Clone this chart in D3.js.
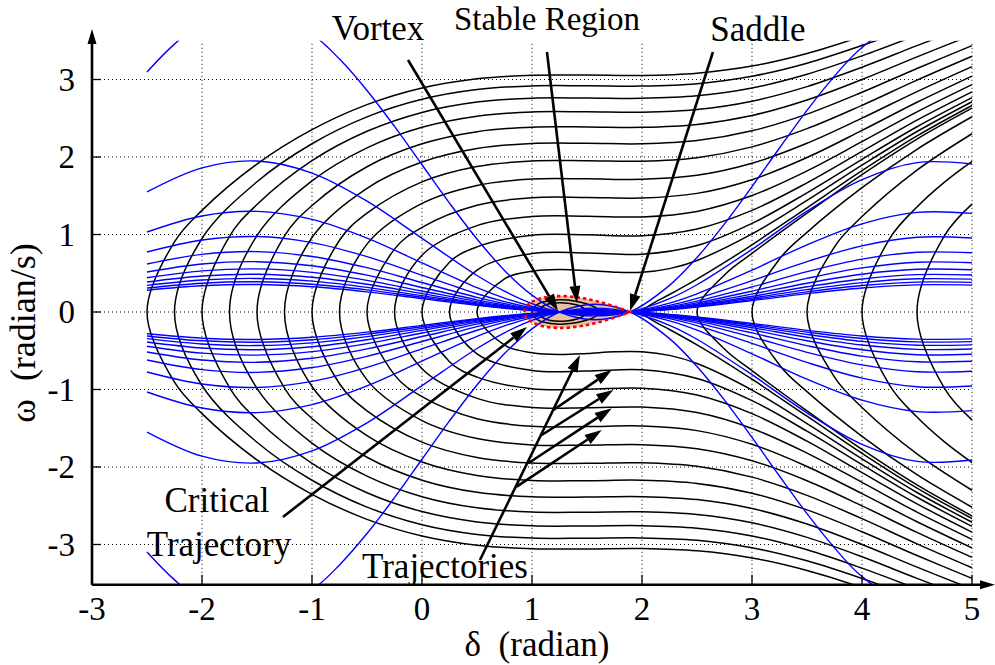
<!DOCTYPE html>
<html>
<head>
<meta charset="utf-8">
<script src="https://cdn.jsdelivr.net/npm/d3@7"></script>
<style>
  html, body { margin: 0; padding: 0; background: #fff; }
  svg text { font-family: "Liberation Serif", "Times New Roman", serif; fill: #000; }
</style>
</head>
<body>
<svg id="chart" width="995" height="665"></svg>
<script>
// ---------------------------------------------------------------------------
// Phase plane of the single-machine swing equation: δ (radian) vs ω (radian/s).
// Trajectories are listed by their upper half as [δ, ω] samples; the portrait is
// symmetric about ω = 0, so each lower half is the mirror image of the upper one.
// ---------------------------------------------------------------------------

const xTicks = [-3, -2, -1, 0, 1, 2, 3, 4, 5];
const yTicks = [-3, -2, -1, 0, 1, 2, 3];

// Trajectories that start on ω = 0 left of the stable point and pass over the saddle
const leftTrajectories = [
  [[-2.5,0],[-2.25,0.906],[-2,1.3115],[-1.5,1.9088],[-1,2.3522],[-0.5,2.6753],[0,2.89],[0.5,3.0096],[1,3.055],[1.5,3.0567],[2,3.0529],[2.5,3.0822],[3,3.1737],[3.5,3.3361],[4,3.556]],
  [[-2.25,0],[-2,0.9483],[-1.5,1.6801],[-1,2.1707],[-0.5,2.5173],[0,2.7443],[0.5,2.87],[1,2.9175],[1.5,2.9194],[2,2.9153],[2.5,2.9461],[3,3.0416],[3.5,3.2107],[4,3.4386],[4.5,3.6959]],
  [[-2,0],[-1.75,0.9751],[-1.5,1.3869],[-1,1.9526],[-0.5,2.3318],[0,2.5753],[0.5,2.7088],[1,2.7591],[1.5,2.7611],[2,2.7568],[2.5,2.7893],[3,2.89],[3.5,3.0674],[4,3.3053],[4.5,3.5722]],
  [[-1.75,0],[-1.5,0.9863],[-1,1.6917],[-0.5,2.1181],[0,2.3836],[0.5,2.5272],[1,2.5811],[1.5,2.5832],[2,2.5786],[2.5,2.6133],[3,2.7205],[3.5,2.9084],[4,3.1582],[4.5,3.4365],[5,3.7079]],
  [[-1.5,0],[-1.25,0.9819],[-1,1.3745],[-0.5,1.8745],[0,2.1699],[0.5,2.3268],[1,2.3852],[1.5,2.3875],[2,2.3825],[2.5,2.42],[3,2.5355],[3.5,2.736],[4,3.0002],[4.5,3.292],[5,3.5744]],
  [[-1.25,0],[-1,0.9618],[-0.5,1.5967],[0,1.935],[0.5,2.1094],[1,2.1737],[1.5,2.1762],[2,2.1708],[2.5,2.2118],[3,2.3376],[3.5,2.5537],[4,2.835],[4.5,3.1421],[5,3.4368]],
  [[-1,0],[-0.75,0.9262],[-0.5,1.2746],[0,1.6791],[0.5,1.8774],[1,1.9494],[1.5,1.9521],[2,1.9461],[2.5,1.9918],[3,2.1306],[3.5,2.3657],[4,2.6669],[4.5,2.9913],[5,3.2995]],
  [[-0.75,0],[-0.5,0.8757],[0,1.4006],[0.5,1.633],[1,1.7153],[1.5,1.7184],[2,1.7115],[2.5,1.7634],[3,1.9187],[3.5,2.1768],[4,2.5009],[4.5,2.8443],[5,3.1669]],
  [[-0.5,0],[-0.25,0.8109],[0,1.0931],[0.5,1.3784],[1,1.4749],[1.5,1.4786],[2,1.4706],[2.5,1.5306],[3,1.7073],[3.5,1.9929],[4,2.3426],[4.5,2.7061],[5,3.0434]],
  [[-0.25,0],[0,0.7329],[0.5,1.1146],[1,1.232],[1.5,1.2364],[2,1.2268],[2.5,1.2981],[3,1.5024],[3.5,1.8205],[4,2.1977],[4.5,2.5818],[5,2.9334]],
  [[0,0],[0.25,0.6425],[0.5,0.8398],[1,0.9903],[1.5,0.9957],[2,0.9838],[2.5,1.0714],[3,1.3115],[3.5,1.6664],[4,2.0719],[4.5,2.4756],[5,2.8403]],
  [[0.25,0],[0.5,0.5407],[1,0.7535],[1.5,0.7607],[2,0.745],[2.5,0.8573],[3,1.1433],[3.5,1.5376],[4,1.9698],[4.5,2.3907],[5,2.7667]],
  [[0.5,0],[0.75,0.428],[1,0.5248],[1.25,0.5481],[1.5,0.535],[1.75,0.5132],[2,0.5124],[2.25,0.5598],[2.5,0.6653],[3,1.0074],[3.5,1.4394],[4,1.8941],[4.5,2.3288],[5,2.7133]]
];

// Trajectories that start on ω = 0 right of the saddle
const rightTrajectories = [
  [[2,0],[2.1,0.1122],[2.25,0.2254],[2.5,0.4243],[2.75,0.6392],[3,0.8673],[3.5,1.3451],[4,1.8235],[4.5,2.2717],[5,2.6645]],
  [[2.5,0],[2.75,0.4781],[3,0.7564],[3.5,1.2764],[4,1.7734],[4.5,2.2317],[5,2.6305]],
  [[3,0],[3.25,0.6832],[3.5,1.0281],[4,1.604],[4.5,2.0996],[5,2.5194]],
  [[3.5,0],[3.75,0.8407],[4,1.2312],[4.5,1.8307],[5,2.3001]],
  [[4,0],[4.25,0.9434],[4.5,1.3549],[4.75,1.6755],[5,1.9428]],
  [[4.5,0],[4.75,0.9858],[5,1.3925]]
];

// Closed orbits around the stable equilibrium (upper halves)
const closedOrbits = [
  [[1,0],[1.05,0.098],[1.1,0.1288],[1.25,0.1581],[1.4,0.1393],[1.5,0.1039],[1.58,0.0548],[1.61,0]],
  [[1.058,0],[1.1,0.0762],[1.17,0.1095],[1.25,0.1192],[1.33,0.1122],[1.4,0.0927],[1.45,0.0678],[1.5,0]]
];

// Critical trajectory: homoclinic loop through the saddle bounding the stable region (upper half)
const criticalLoop = [[0.932,0],[0.95,0.0707],[1,0.1311],[1.1,0.1838],[1.25,0.2054],[1.4,0.1913],[1.5,0.1673],[1.6,0.1349],[1.7,0.0949],[1.8,0.0469],[1.889,0]];

// Isoclines (curves of constant trajectory slope), upper halves sampled on a shared δ grid
const isoclineDelta = [-2.5,-2,-1.5,-1,-0.5,0,0.5,0.75,1,1.25,1.57,1.89,2.25,2.5,3,3.5,4,4.5,5];
const isoclineOmega = [
  [1.5485,1.8593,1.9475,1.7915,1.4294,0.95,0.4706,0.2684,0.1085,0,-0.05,0,0.1719,0.3515,0.8089,1.3008,1.7068,1.9275,1.9089],
  [1.0323,1.2395,1.2983,1.1943,0.9529,0.6333,0.3137,0.1789,0.0723,0,-0.0333,0,0.1146,0.2343,0.5393,0.8672,1.1379,1.285,1.2726],
  [0.7743,0.9297,0.9738,0.8958,0.7147,0.475,0.2353,0.1342,0.0543,0,-0.025,0,0.086,0.1758,0.4045,0.6504,0.8534,0.9638,0.9545],
  [0.6194,0.7437,0.779,0.7166,0.5718,0.38,0.1882,0.1074,0.0434,0,-0.02,0,0.0688,0.1406,0.3236,0.5203,0.6827,0.771,0.7636],
  [0.5162,0.6198,0.6492,0.5972,0.4765,0.3167,0.1569,0.0895,0.0362,0,-0.0167,0,0.0573,0.1172,0.2696,0.4336,0.5689,0.6425,0.6363],
  [0.4424,0.5312,0.5564,0.5119,0.4084,0.2714,0.1345,0.0767,0.031,0,-0.0143,0,0.0491,0.1004,0.2311,0.3717,0.4877,0.5507,0.5454],
  [0.3871,0.4648,0.4869,0.4479,0.3574,0.2375,0.1177,0.0671,0.0271,0,-0.0125,0,0.043,0.0879,0.2022,0.3252,0.4267,0.4819,0.4772],
  [0.3441,0.4132,0.4328,0.3981,0.3176,0.2111,0.1046,0.0596,0.0241,0,-0.0111,0,0.0382,0.0781,0.1798,0.2891,0.3793,0.4283,0.4242],
  [0.3097,0.3719,0.3895,0.3583,0.2859,0.19,0.0941,0.0537,0.0217,0,-0.01,0,0.0344,0.0703,0.1618,0.2602,0.3414,0.3855,0.3818],
  [0.2815,0.3381,0.3541,0.3257,0.2599,0.1727,0.0856,0.0488,0.0197,0,-0.0091,0,0.0313,0.0639,0.1471,0.2365,0.3103,0.3505,0.3471]
];

// Steepest isocline, sampled more densely because it leaves and re-enters the plot
const steepIsoclineDelta = [-2.5,-2.25,-2,-1.5,-1,-0.75,-0.5,-0.25,0,0.25,0.5,0.75,1,1.25,1.57,1.89,2.25,2.5,2.75,3,3.25,3.5,3.75,4,4.5,5];
const steepIsoclineOmega = [3.097,3.4562,3.7186,3.895,3.583,3.2632,2.8588,2.3948,1.9,1.4052,0.9412,0.5368,0.217,0,-0.1,0,0.3438,0.703,1.1366,1.6178,2.1164,2.6016,3.0432,3.4136,3.855,3.8178];

// Annotation arrows, [tail, head] in (δ, ω)
const vortexArrow   = [[-0.127, 3.252], [1.236, 0.013]];
const stableArrow   = [[1.136, 3.355], [1.409, 0.116]];
const saddleArrow   = [[2.645, 3.355], [1.891, 0.013]];
const criticalArrow = [[-1.264, -2.645], [0.955, -0.194]];
const trajectoryArrows = [
  [[0.527, -3.2], [1.436, -0.555]],
  [[1.194, -1.265], [1.725, -0.748]],
  [[1.088, -1.587], [1.739, -1.006]],
  [[0.966, -1.952], [1.725, -1.243]],
  [[0.861, -2.254], [1.634, -1.523]]
];

// ---------------------------------------------------------------------------
const svg = d3.select("#chart");
const x = d3.scaleLinear().domain([-3, 5]).range([92, 972]);
const y = d3.scaleLinear().domain([-3.52, 3.5]).range([584.8, 40.75]);
const yMin = -3.52, yMax = 3.5;

const line = d3.line().x(d => x(d[0])).y(d => y(d[1])).curve(d3.curveCatmullRom.alpha(0.5));
const closedLine = d3.line().x(d => x(d[0])).y(d => y(d[1])).curve(d3.curveCatmullRomClosed.alpha(0.5));

// full trajectory: lower half (mirrored, reversed) followed by the upper half
const bothHalves = pts => pts.slice(1).reverse().map(([d, w]) => [d, -w]).concat(pts);
const orbitPoints = pts => pts.concat(pts.slice(1, -1).reverse().map(([d, w]) => [d, -w]));
const loopFromSaddle = pts => pts.slice().reverse().concat(pts.slice(1).map(([d, w]) => [d, -w]));

// grid
const grid = svg.append("g").attr("stroke", "#000").attr("stroke-width", 1).attr("stroke-dasharray", "1,3");
grid.selectAll(".gx").data(xTicks.filter(t => t > -3)).join("line")
  .attr("x1", d => x(d)).attr("x2", d => x(d)).attr("y1", y(yMin)).attr("y2", y(yMax));
grid.selectAll(".gy").data(yTicks).join("line")
  .attr("x1", x(-3)).attr("x2", x(5)).attr("y1", d => y(d)).attr("y2", d => y(d));

// plot area clip
svg.append("clipPath").attr("id", "plotClip").append("rect")
  .attr("x", x(-3)).attr("y", y(yMax)).attr("width", x(5) - x(-3) + 1).attr("height", y(yMin) - y(yMax));
const plot = svg.append("g").attr("clip-path", "url(#plotClip)");

// stable region
const loopPts = loopFromSaddle(criticalLoop);
plot.append("path").attr("d", line(loopPts) + "Z").attr("fill", "#e8c2a0").attr("stroke", "none");

// trajectories
const traj = plot.append("g").attr("fill", "none").attr("stroke", "#000").attr("stroke-width", 1.5);
traj.selectAll(".lt").data(leftTrajectories.concat(rightTrajectories)).join("path")
  .attr("d", d => line(bothHalves(d)));
traj.selectAll(".co").data(closedOrbits).join("path")
  .attr("d", d => closedLine(orbitPoints(d)));

// isoclines
const iso = plot.append("g").attr("fill", "none").attr("stroke", "#0000ff").attr("stroke-width", 1.4);
const isoCurves = isoclineOmega.map(ws => isoclineDelta.map((d, i) => [d, ws[i]]));
isoCurves.push(steepIsoclineDelta.map((d, i) => [d, steepIsoclineOmega[i]]));
iso.selectAll(".iu").data(isoCurves).join("path").attr("d", d => line(d));
iso.selectAll(".il").data(isoCurves).join("path").attr("d", d => line(d.map(([a, w]) => [a, -w])));

// critical trajectory outline
plot.append("path").attr("d", line(loopPts) + "Z").attr("fill", "none")
  .attr("stroke", "#ff0000").attr("stroke-width", 2.6).attr("stroke-dasharray", "3.5,3");

// axes
const axisG = svg.append("g").attr("stroke", "#000").attr("stroke-width", 2.6);
axisG.append("line").attr("x1", x(-3)).attr("x2", 982).attr("y1", y(yMin)).attr("y2", y(yMin));
axisG.append("line").attr("x1", x(-3)).attr("x2", x(-3)).attr("y1", y(yMin)).attr("y2", 42);
svg.append("path").attr("d", `M${x(-3)},29 L${x(-3) - 4.5},44 L${x(-3) + 4.5},44 Z`).attr("fill", "#000");
svg.append("path").attr("d", `M995,${y(yMin)} L980,${y(yMin) - 4.5} L980,${y(yMin) + 4.5} Z`).attr("fill", "#000");

const tickG = svg.append("g").attr("stroke", "#000").attr("stroke-width", 1.3);
tickG.selectAll(".tx").data(xTicks).join("line")
  .attr("x1", d => x(d)).attr("x2", d => x(d)).attr("y1", y(yMin)).attr("y2", y(yMin) - 10);
tickG.selectAll(".ty").data(yTicks).join("line")
  .attr("x1", x(-3)).attr("x2", x(-3) + 9).attr("y1", d => y(d)).attr("y2", d => y(d));

svg.append("g").selectAll("text").data(xTicks).join("text")
  .attr("x", d => x(d)).attr("y", 620).attr("text-anchor", "middle").attr("font-size", 33)
  .text(d => String(d));
svg.append("g").selectAll("text").data(yTicks).join("text")
  .attr("x", 75).attr("y", d => y(d) + 11).attr("text-anchor", "end").attr("font-size", 33)
  .text(d => String(d));

svg.append("text").attr("x", 537).attr("y", 656).attr("text-anchor", "middle").attr("font-size", 35)
  .style("white-space", "pre").text("δ  (radian)");
svg.append("text").attr("transform", "translate(35,333) rotate(-90)").attr("text-anchor", "middle")
  .attr("font-size", 36).style("white-space", "pre").text("ω  (radian/s)");

// annotations
function arrow(g, [tail, head]) {
  const x0 = x(tail[0]), y0 = y(tail[1]), x1 = x(head[0]), y1 = y(head[1]);
  const ang = Math.atan2(y1 - y0, x1 - x0), L = 17, W = 5.5;
  const bx = x1 - L * Math.cos(ang), by = y1 - L * Math.sin(ang);
  g.append("line").attr("x1", x0).attr("y1", y0).attr("x2", bx).attr("y2", by)
    .attr("stroke", "#000").attr("stroke-width", 2.6);
  g.append("path").attr("fill", "#000").attr("d",
    `M${x1},${y1} L${bx - W * Math.sin(ang)},${by + W * Math.cos(ang)} L${bx + W * Math.sin(ang)},${by - W * Math.cos(ang)} Z`);
}
const ann = svg.append("g");
[vortexArrow, stableArrow, saddleArrow, criticalArrow, ...trajectoryArrows].forEach(a => arrow(ann, a));

const labels = [
  { t: "Vortex", x: 378, y: 40, s: 35 },
  { t: "Stable Region", x: 547, y: 30, s: 33 },
  { t: "Saddle", x: 758, y: 41, s: 35 },
  { t: "Critical", x: 217, y: 512, s: 35 },
  { t: "Trajectory", x: 219, y: 556, s: 35 },
  { t: "Trajectories", x: 445, y: 578, s: 35 }
];
ann.selectAll("text").data(labels).join("text")
  .attr("x", d => d.x).attr("y", d => d.y).attr("text-anchor", "middle").attr("font-size", d => d.s)
  .text(d => d.t);
</script>
</body>
</html>
